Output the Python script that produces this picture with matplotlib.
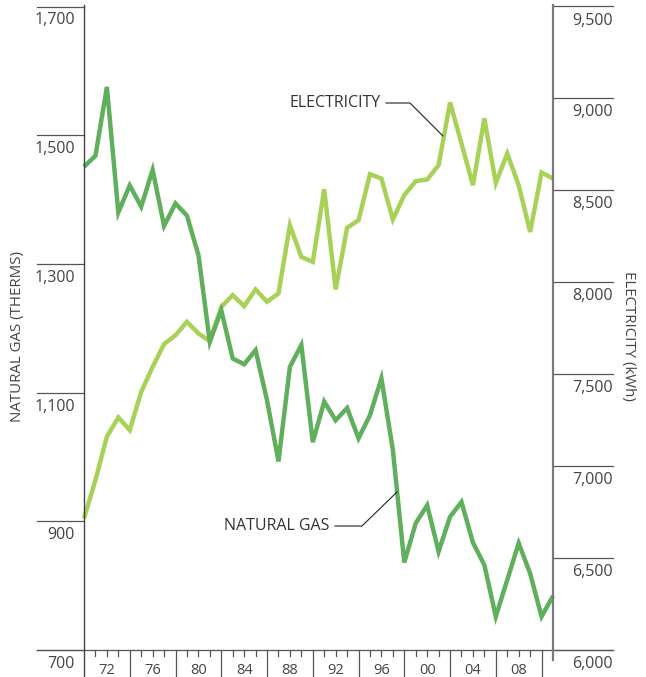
import matplotlib
matplotlib.use("Agg")
import matplotlib.pyplot as plt
from matplotlib.transforms import blended_transform_factory

plt.rcParams['font.family'] = ['Open Sans', 'DejaVu Sans']

years = list(range(1970, 2012))
natural_gas = [1451, 1468, 1575, 1380, 1422, 1389, 1446, 1359, 1394, 1375,
               1314, 1179, 1228, 1153, 1144, 1166, 1088, 993, 1140, 1174,
               1023, 1086, 1057, 1076, 1029, 1065, 1122, 1011, 836, 897,
               925, 853, 907, 930, 867, 832, 752, 809, 866, 819,
               752, 784]
electricity = [6716, 6924, 7160, 7265, 7196, 7404, 7540, 7664, 7712, 7785,
               7722, 7680, 7866, 7930, 7870, 7961, 7894, 7939, 8310, 8138,
               8111, 8506, 7961, 8296, 8338, 8588, 8564, 8342, 8474, 8550,
               8559, 8637, 8978, 8755, 8528, 8891, 8540, 8700, 8528, 8274,
               8597, 8564]
gas_ticks = [700, 900, 1100, 1300, 1500, 1700]
gas_tick_labels = ["700", "900", "1,100", "1,300", "1,500", "1,700"]
elec_ticks = [6000, 6500, 7000, 7500, 8000, 8500, 9000, 9500]
elec_tick_labels = ["6,000", "6,500", "7,000", "7,500", "8,000", "8,500", "9,000", "9,500"]
year_label_pos = [1972, 1976, 1980, 1984, 1988, 1992, 1996, 2000, 2004, 2008]
year_labels = ["72", "76", "80", "84", "88", "92", "96", "00", "04", "08"]
separator_years = [1974, 1978, 1982, 1986, 1990, 1994, 1998, 2002, 2006, 2010]

W, H = 646, 677
fig = plt.figure(figsize=(W / 100, H / 100), dpi=100)
L, R, T, B = 84, 553, 6.5, 650
ax = fig.add_axes([L / W, (H - B) / H, (R - L) / W, (B - T) / H])
ax2 = ax.twinx()

gas_color = "#5faf5c"
elec_color = "#a8d257"
grid_color = "#555555"
text_color = "#444444"

ax.set_xlim(1970, 2011)
ax.set_ylim(700, 1700)
ax2.set_ylim(6000, 9500)

ax2.plot(years, electricity, color=elec_color, lw=3.2, solid_joinstyle='miter',
         solid_capstyle='butt', clip_on=False)
ax.plot(years, natural_gas, color=gas_color, lw=3.2, solid_joinstyle='miter',
        solid_capstyle='butt', clip_on=False)
ax.set_zorder(ax2.get_zorder() + 1)
ax.patch.set_visible(False)

for a in (ax, ax2):
    for s in a.spines.values():
        s.set_visible(False)
    a.set_yticks([])
    a.tick_params(axis='x', which='both', bottom=False, labelbottom=False)

# left horizontal tick lines
tl = blended_transform_factory(ax.transAxes, ax.transData)
left_ext = (37 - L) / (R - L)
for v in gas_ticks:
    ax.plot([left_ext, 0], [v, v], transform=tl, color=grid_color, lw=0.9, clip_on=False)

# right horizontal tick lines
tr = blended_transform_factory(ax2.transAxes, ax2.transData)
right_ext = (613 - L) / (R - L)
for v in elec_ticks:
    ax2.plot([1, right_ext], [v, v], transform=tr, color=grid_color, lw=0.9, clip_on=False)

# bottom axis line across
fig.add_artist(plt.Line2D([37 / W, 613 / W], [(H - B) / H] * 2, color=grid_color, lw=0.9))
# spines extended
fig.add_artist(plt.Line2D([L / W] * 2, [0, (H - T + 2) / H], color="#444444", lw=1.0))
fig.add_artist(plt.Line2D([R / W] * 2, [(H - 660) / H, (H - T + 2) / H], color="#7a7a7a", lw=1.6))

# year ticks
tx = blended_transform_factory(ax.transData, ax.transAxes)
px = 1 / (B - T)
for y in years[1:-1]:
    if y in separator_years:
        ax.plot([y, y], [0, -30 * px], transform=tx, color=grid_color, lw=0.9, clip_on=False)
    else:
        ax.plot([y, y], [0, -6 * px], transform=tx, color=grid_color, lw=0.9, clip_on=False)
for y, lab in zip(year_label_pos, year_labels):
    ax.text(y, -13 * px, lab, transform=tx, ha='center', va='top', fontsize=10.5,
            color=text_color)

fig.canvas.draw()
# tick labels placed below their lines
for v, lab in zip(gas_ticks, gas_tick_labels):
    ypix = H - ax.transData.transform((0, v))[1]
    fig.text(75 / W, (H - ypix - 14) / H, lab, ha='right', va='center', fontsize=11.5,
             color=text_color)
for v, lab in zip(elec_ticks, elec_tick_labels):
    ypix = H - ax2.transData.transform((0, v))[1]
    fig.text(613 / W, (H - ypix - 14) / H, lab, ha='right', va='center', fontsize=11.5,
             color=text_color)

fig.text(18 / W, (H - 336) / H, "NATURAL GAS (THERMS)", rotation=90, ha='center', va='center',
         fontsize=10.8, color=text_color)
fig.text(629 / W, (H - 336) / H, "ELECTRICITY (kWh)", rotation=-90, ha='center', va='center',
         fontsize=10.8, color=text_color)

# annotations
ann_color = "#222222"
fig.text(381 / W, (H - 103) / H, "ELECTRICITY", ha='right', va='center', fontsize=11.5,
         color="#333333")
fig.add_artist(plt.Line2D([386 / W, 410 / W, 443 / W],
                          [(H - 103) / H, (H - 103) / H, (H - 136) / H], color=ann_color, lw=0.8))
fig.text(329 / W, (H - 526) / H, "NATURAL GAS", ha='right', va='center', fontsize=11.5,
         color="#333333")
fig.add_artist(plt.Line2D([335 / W, 362 / W, 397 / W],
                          [(H - 526) / H, (H - 526) / H, (H - 492) / H], color=ann_color, lw=0.8))

fig.savefig("out.png", dpi=100)
